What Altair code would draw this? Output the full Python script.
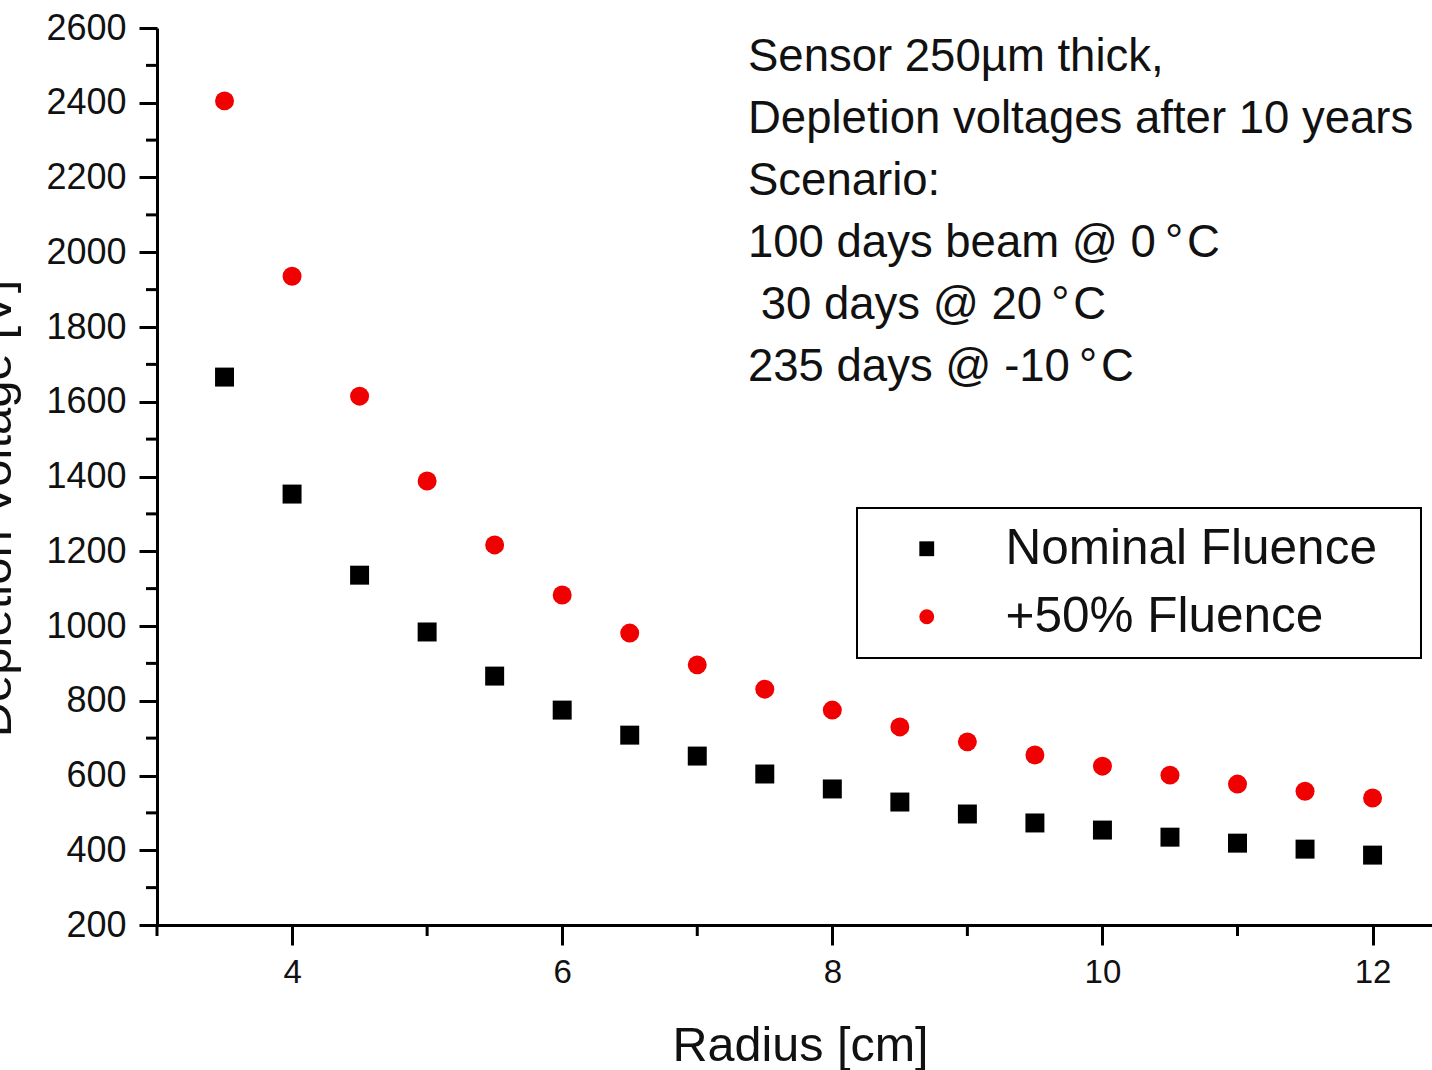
import altair as alt
import pandas as pd

# ---- data ----
radius = [3.5, 4.0, 4.5, 5.0, 5.5, 6.0, 6.5, 7.0, 7.5, 8.0, 8.5, 9.0, 9.5, 10.0, 10.5, 11.0, 11.5, 12.0]
nominal = [1666, 1353, 1136, 984, 866, 775, 708, 652, 604, 564, 529, 497, 473, 454, 435, 419, 403, 387]
plus50 = [2405, 1936, 1615, 1388, 1217, 1083, 981, 896, 831, 775, 730, 690, 655, 625, 601, 577, 558, 540]

series_names = ["Nominal Fluence", "+50% Fluence"]
series_colors = ["#000000", "#f00000"]
series_shapes = ["square", "circle"]

x_ticks = [4, 6, 8, 10, 12]
x_minor = [3, 5, 7, 9, 11]
y_ticks = [200, 400, 600, 800, 1000, 1200, 1400, 1600, 1800, 2000, 2200, 2400, 2600]
y_minor = [300, 500, 700, 900, 1100, 1300, 1500, 1700, 1900, 2100, 2300, 2500]

annotation_lines = [
    "Sensor 250µm thick,",
    "Depletion voltages after 10 years",
    "Scenario:",
    "100 days beam @ 0\u2009°\u200aC",
    "\u200b\u00a030 days @ 20\u2009°\u200aC",
    "235 days @ -10\u2009°\u200aC",
]

x_title = "Radius [cm]"
y_title = "Depletion Voltage [V]"

FONT = "Liberation Sans"
W, H = 1275, 897

df = pd.DataFrame({
    "radius": radius + radius,
    "voltage": nominal + plus50,
    "series": [series_names[0]] * len(radius) + [series_names[1]] * len(radius),
})

xscale = alt.Scale(domain=[3, 12.44], nice=False, zero=False)
yscale = alt.Scale(domain=[200, 2600], nice=False, zero=False)

x_axis = alt.Axis(
    values=x_ticks, title=x_title, format="d",
    tickSize=20, labelPadding=11, labelFontSize=33,
    titleFontSize=48.5, titleX=643, titleY=135, titleAlign="center",
    titleBaseline="alphabetic", titleFontWeight="normal",
)
y_axis = alt.Axis(
    values=y_ticks, title=y_title, format="d",
    tickSize=18, labelPadding=13, labelFontSize=36,
    titleFontSize=49, titleX=-147, titleY=480, titleAngle=270,
    titleAlign="center", titleBaseline="alphabetic", titleFontWeight="normal",
)

legend = alt.Legend(
    title=None, orient="none", legendX=700, legendY=480,
    strokeColor="black", padding=16, labelLimit=800,
    labelFontSize=49.5, labelFont=FONT, labelColor="#111111",
    symbolSize=220, symbolOffset=29, labelOffset=54, rowPadding=17,
    labelExpr="datum.label + '\u00a0\u00a0\u200b'",
)

points = alt.Chart(df).mark_point(filled=True, size=360, opacity=1, strokeWidth=0).encode(
    x=alt.X("radius:Q", scale=xscale, axis=x_axis),
    y=alt.Y("voltage:Q", scale=yscale, axis=y_axis),
    color=alt.Color("series:N", scale=alt.Scale(domain=series_names, range=series_colors), legend=legend),
    shape=alt.Shape("series:N", scale=alt.Scale(domain=series_names, range=series_shapes), legend=legend),
)

y_minor_rules = alt.Chart(pd.DataFrame({"voltage": y_minor})).mark_rule(color="black", strokeWidth=3).encode(
    y=alt.Y("voltage:Q", scale=yscale, axis=y_axis),
    x=alt.value(-11), x2=alt.value(0),
)

x_minor_rules = alt.Chart(pd.DataFrame({"radius": x_minor})).mark_rule(color="black", strokeWidth=3).encode(
    x=alt.X("radius:Q", scale=xscale, axis=x_axis),
    y=alt.value(H), y2=alt.value(H + 11),
)

annotation = alt.Chart(pd.DataFrame({"t": ["\n".join(annotation_lines)]})).mark_text(
    align="left", baseline="alphabetic", fontSize=45.5, font=FONT, color="#111111",
    lineBreak="\n", lineHeight=62,
).encode(x=alt.value(591), y=alt.value(43), text="t:N")

chart = alt.layer(points, y_minor_rules, x_minor_rules, annotation).properties(
    width=W, height=H,
    autosize=alt.AutoSizeParams(type="none"),
    padding={"left": 157, "top": 28, "right": 0, "bottom": 145},
    background="white",
).configure_view(strokeWidth=0).configure_axis(
    grid=False, domainColor="black", domainWidth=3, tickColor="black", tickWidth=3,
    labelFont=FONT, titleFont=FONT, labelColor="#111111", titleColor="#111111",
).configure_legend(strokeWidth=2)

chart.save("out.html", embed_options={"renderer": "svg", "actions": False})
